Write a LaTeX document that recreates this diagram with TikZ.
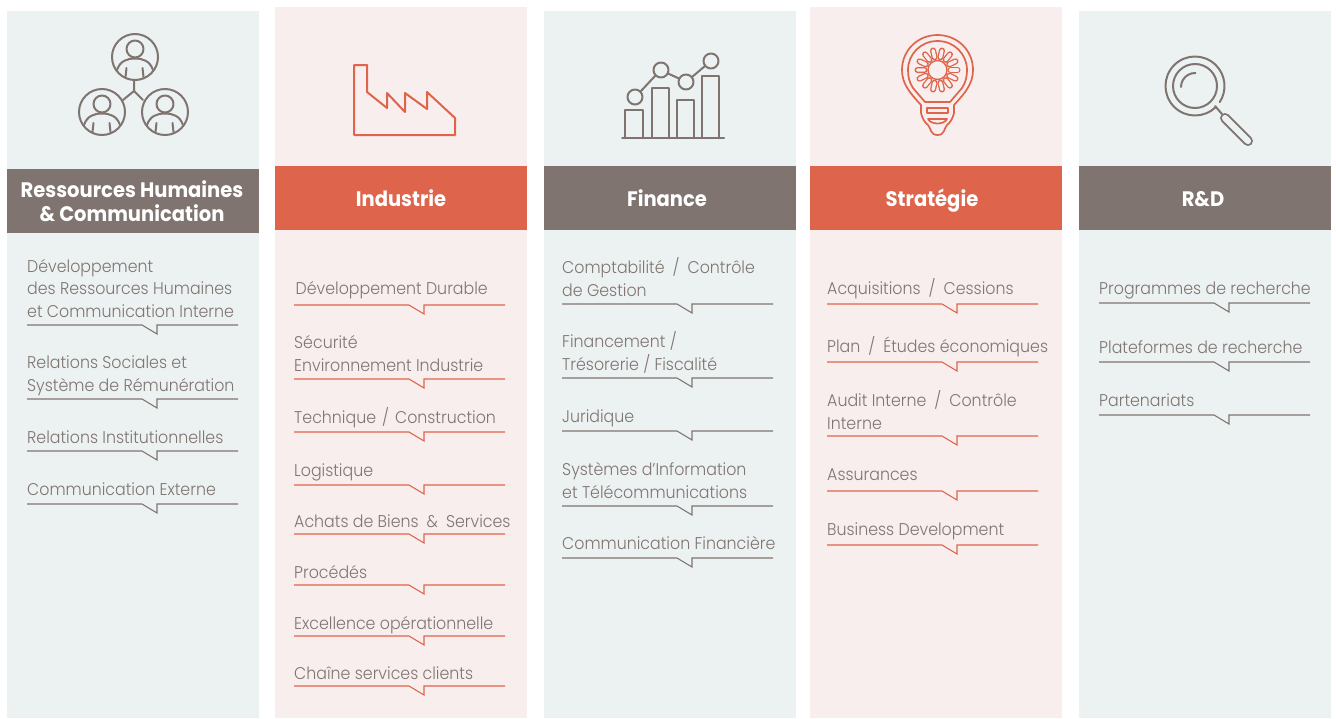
\documentclass[tikz,border=0pt]{standalone}
\usepackage{fontspec}
\setmainfont{Poppins}[UprightFont=* Light,BoldFont=* Bold,FakeStretch=0.93]
\definecolor{pale}{HTML}{ECF2F2}
\definecolor{pinkp}{HTML}{F8EEEE}
\definecolor{greyd}{HTML}{7F7470}
\definecolor{orng}{HTML}{DE654B}
\definecolor{txt}{HTML}{7F7571}
\newcommand\slsh{\hspace{8pt}/\hspace{8pt}}
\tikzset{
  panel/.style={fill=#1,draw=none},
  head/.style={fill=#1,draw=none},
  headtxt/.style={text=white,font=\fontsize{21}{24}\selectfont\bfseries,align=center,inner sep=0pt},
  headone/.style={headtxt,anchor=base},
  lbl/.style={text=txt,font=\fontsize{17}{22.5}\selectfont,align=left,anchor=base west,inner sep=0pt},
  rulepath/.style={draw=#1,line width=1.1pt},
  icon/.style={draw=#1,line width=2pt,line join=round,line cap=round},
}
\newcommand\entry[6]{% name,x,y(rule),colour,text,gap
  \node[lbl] (#1) at (#2,#3-#6) {#5};
  \draw[rulepath=#4] (#2,#3) -- ++(115,0) -- ++(15,9) -- ++(0,-9) -- ++(81,0);
}
\newcommand\person[2]{%
  \begin{scope}[shift={(#1,#2)}]
    \draw[icon=greyd] (0,0) circle[radius=23];
    \draw[icon=greyd] (0,-8) circle[radius=8.5];
    \draw[icon=greyd] (-18,13) .. controls (-15,4) and (-8,1.5) .. (0,1.5) .. controls (8,1.5) and (15,4) .. (18,13);
    \draw[icon=greyd] (-8.5,11) -- (-9.5,20) (7.5,11) -- (8.5,20);
  \end{scope}}
\begin{document}
\begin{tikzpicture}[x=1pt,y=-1pt]
\useasboundingbox (0,0) rectangle (1336,718);
\fill[white] (0,0) rectangle (1336,718);
% panels
\fill[panel=pale] (7,11) rectangle (259,718);
\fill[panel=pinkp] (275,7) rectangle (527,718);
\fill[panel=pale] (544,11) rectangle (796,718);
\fill[panel=pinkp] (810,7) rectangle (1062,718);
\fill[panel=pale] (1079,11) rectangle (1331,718);
% headers
\fill[head=greyd] (7,169) rectangle (259,233);
\fill[head=orng] (275,166) rectangle (527,230);
\fill[head=greyd] (544,166) rectangle (796,230);
\fill[head=orng] (810,166) rectangle (1062,230);
\fill[head=greyd] (1079,166) rectangle (1331,230);
\node[headtxt] (h1) at (132,201.5) {Ressources Humaines\\\& Communication};
\node[headone] (h2) at (401,206.5) {Industrie};
\node[headone] (h3) at (667,206.5) {Finance};
\node[headone] (h4) at (932,206.5) {Stratégie};
\node[headone] (h5) at (1203,206.5) {R\&D};
% col 1
\entry{a1}{27}{325}{greyd}{Développement\\des Ressources Humaines\\et Communication Interne}{8}
\entry{a2}{27}{399}{greyd}{Relations Sociales et\\Système de Rémunération}{8}
\entry{a3}{27}{451}{greyd}{Relations Institutionnelles}{8}
\entry{a4}{27}{504}{greyd}{Communication Externe}{9}
% col 2
\entry{b1}{294}{305}{orng}{\hspace*{1.5pt}Développement Durable}{11}
\entry{b2}{294}{379}{orng}{Sécurité\\Environnement Industrie}{8}
\entry{b3}{294}{432}{orng}{Technique\hspace{6pt}/\hspace{6pt}Construction}{9}
\entry{b4}{294}{485}{orng}{Logistique}{9}
\entry{b5}{294}{534}{orng}{Achats de Biens\hspace{8pt}\&\hspace{8pt}Services}{7}
\entry{b6}{294}{585}{orng}{Procédés}{7}
\entry{b7}{294}{636}{orng}{Excellence opérationnelle}{7}
\entry{b8}{294}{686}{orng}{Chaîne services clients}{7}
% col 3
\entry{c1}{562}{304}{greyd}{Comptabilité\slsh Contrôle\\de Gestion}{8}
\entry{c2}{562}{378}{greyd}{Financement /\\Trésorerie / Fiscalité}{8}
\entry{c3}{562}{431}{greyd}{Juridique}{9}
\entry{c4}{562}{506}{greyd}{Systèmes d’Information\\et Télécommunications}{8}
\entry{c5}{562}{558}{greyd}{Communication Financière}{9}
% col 4
\entry{d1}{827}{304}{orng}{Acquisitions\slsh Cessions}{10}
\entry{d2}{827}{362}{orng}{Plan\slsh Études économiques}{10}
\entry{d3}{827}{436}{orng}{Audit Interne\slsh Contrôle\\Interne}{7}
\entry{d4}{827}{491}{orng}{Assurances}{11}
\entry{d5}{827}{545}{orng}{Business Development}{10}
% col 5
\entry{e1}{1099}{303}{greyd}{Programmes de recherche}{9}
\entry{e2}{1099}{362}{greyd}{Plateformes de recherche}{9}
\entry{e3}{1099}{415}{greyd}{Partenariats}{9}
% people icon
\person{135}{57}\person{102}{112}\person{165}{112}
\draw[icon=greyd] (134,80) -- (134,91) (123,100) -- (134,91) -- (143,100);
% factory
\draw[icon=orng] (354,65) -- (367,65) -- (367,92) -- (387,108) -- (387,93) -- (405,112) -- (405,93) -- (427,109) -- (427,92) -- (455,118) -- (455,135) -- (354,135) -- cycle;
% chart
\draw[icon=greyd] (622,138) -- (724,138);
\draw[icon=greyd] (625,138) -- (625,110) -- (643,110) -- (643,138);
\draw[icon=greyd] (652,138) -- (652,88) -- (669,88) -- (669,138);
\draw[icon=greyd] (677,138) -- (677,100) -- (694,100) -- (694,138);
\draw[icon=greyd] (702,138) -- (702,76) -- (719,76) -- (719,138);
\draw[icon=greyd] (635,97) circle[radius=7.5] (661,70) circle[radius=7.5] (686,82) circle[radius=7.5] (711,61) circle[radius=7.5];
\draw[icon=greyd] (640.5,91.5) -- (655.5,75.5) (668,73.5) -- (679,78.5) (692,77) -- (705,66);
% bulb
\tikzset{bulbline/.style={draw=orng,line width=1.7pt,line join=round,line cap=round}}
\draw[bulbline] (921,105) .. controls (910,93) and (902,84) .. (902,70) .. controls (902,50) and (918,35) .. (937.5,35) .. controls (957,35) and (973,50) .. (973,70) .. controls (973,84) and (965,93) .. (954,105) -- (954,113) .. controls (953,118) and (950,123) .. (947,125) .. controls (944,128) and (945,135) .. (937.5,135) .. controls (930,135) and (931,128) .. (928,125) .. controls (925,123) and (922,118) .. (921,113) -- cycle;
\draw[bulbline] (925,102) -- (913,88) .. controls (909,82) and (908,76) .. (908,70) .. controls (908,54) and (921,41) .. (937.5,41) .. controls (954,41) and (967,54) .. (967,70) .. controls (967,76) and (966,82) .. (962,88) -- (950,102) -- cycle;
\draw[bulbline] (927,108) rectangle (948,113);
\draw[bulbline] (928,119) -- (947,119) .. controls (944,125) and (931,125) .. (928,119) -- cycle;
\foreach \a in {0,25.714,...,340}{
  \draw[orng,line width=6pt,line cap=round] (937.5,70) ++(\a:13) -- ++(\a:7);
}
\foreach \a in {0,25.714,...,340}{
  \draw[pinkp,line width=3.4pt,line cap=round] (937.5,70) ++(\a:13) -- ++(\a:7);
}
\fill[pinkp,draw=orng,line width=1.4pt] (937.5,70) circle[radius=9.5];
% magnifier
\draw[icon=greyd] (1195,86) ++(45:29.5) arc[start angle=45,end angle=393,radius=29.5];
\draw[icon=greyd] (1195,86) circle[radius=22];
\draw[icon=greyd] (1181,87) arc[start angle=180,end angle=272,radius=14];
\draw[icon=greyd] (1215,106) -- (1222,114);
\draw[greyd,line width=10pt,line cap=round] (1225,118) -- (1248,141);
\draw[pale,line width=6.2pt,line cap=round] (1225,118) -- (1248,141);
\end{tikzpicture}
\end{document}
